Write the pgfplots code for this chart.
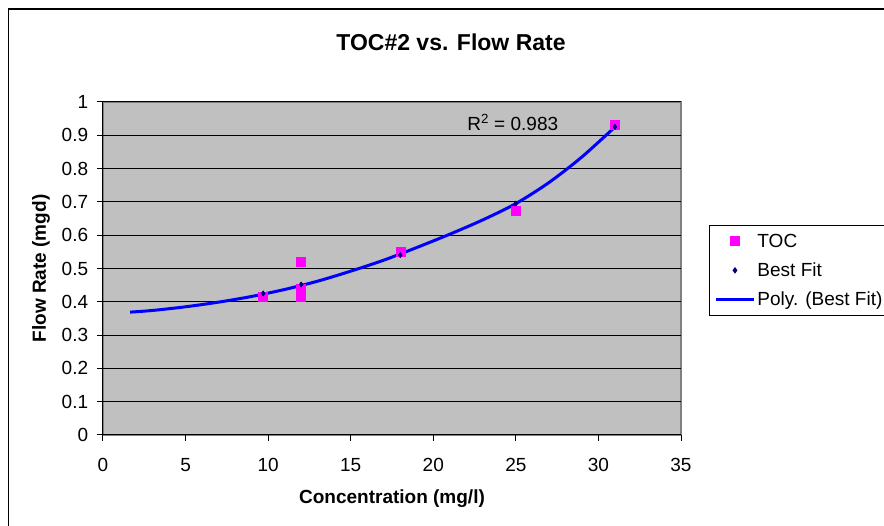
\documentclass[border=0pt]{standalone}
\usepackage{fontspec}
\setmainfont{Liberation Sans}
\usepackage{pgfplots}
\pgfplotsset{compat=1.18}
\definecolor{plotgray}{RGB}{192,192,192}
\definecolor{framegray}{RGB}{128,128,128}
\definecolor{tocmag}{RGB}{255,0,255}
\definecolor{fitnavy}{RGB}{0,0,128}
\definecolor{polyblue}{RGB}{0,0,255}
\begin{document}
\begin{tikzpicture}
\path[use as bounding box, fill=white] (0,0) rectangle (884bp,526bp);
\draw[line width=1.5bp] (8.5bp,0) -- (8.5bp,517bp) -- (884bp,517bp);
\begin{axis}[
  at={(103bp,91bp)}, anchor=south west,
  scale only axis, width=578bp, height=333bp,
  xmin=0, xmax=35, ymin=0, ymax=1,
  xtick={0,5,10,15,20,25,30,35},
  ytick={0,0.1,0.2,0.3,0.4,0.5,0.6,0.7,0.8,0.9,1},
  axis x line*=bottom, axis y line*=left,
  axis line style={black, line width=1bp},
  axis background/.style={fill=plotgray, draw=framegray, line width=1.5bp},
  ymajorgrids, grid style={black, line width=1bp},
  tick align=outside, major tick length=6bp, tick style={black, line width=1bp},
  /pgf/number format/assume math mode=true,
  ticklabel style={font=\fontsize{19bp}{22bp}\selectfont, inner sep=0pt},
  yticklabel style={/pgf/number format/fixed, /pgf/number format/precision=1, xshift=-8.7bp},
  xticklabel style={yshift=-17bp},
  legend style={at={(1.0484,0.6306)}, anchor=north west, draw=black, line width=1bp,
    fill=white, font=\fontsize{19bp}{22bp}\selectfont, inner xsep=5bp, inner ysep=6.5bp,
    row sep=10bp, cells={anchor=west}},
  legend image code/.code={\draw[mark repeat=2,mark phase=2,#1] plot coordinates {(0bp,0bp) (19bp,0bp) (38bp,0bp)};},
  clip=false,
]
\addplot[only marks, mark=square*, mark size=4.5bp, color=tocmag] coordinates {
  (9.7,0.415) (12,0.52) (12,0.44) (12,0.415) (18,0.55) (25,0.673) (31,0.933)
};
\addlegendentry{TOC}
\addplot[only marks, mark=diamond*, mark size=2.5bp, color=fitnavy] coordinates {
  (9.7,0.425) (12,0.452) (18,0.54) (25,0.695) (31,0.925)
};
\addlegendentry{Best Fit}
\addplot[polyblue, line width=3bp, smooth, mark=none] coordinates {
  (1.64,0.369) (3,0.374) (5,0.385) (7,0.399) (9,0.416) (11,0.437) (13,0.462)
  (15,0.492) (17,0.525) (19,0.563) (21,0.603) (23,0.646) (25,0.695) (27,0.758)
  (29,0.835) (31,0.925)
};
\addlegendentry{Poly. (Best Fit)}
\addplot[only marks, mark=diamond*, mark size=2.5bp, color=fitnavy, forget plot] coordinates {
  (9.7,0.425) (12,0.452) (18,0.54) (25,0.695) (31,0.925)
};
\node[anchor=west, font=\fontsize{19bp}{22bp}\selectfont, inner sep=0pt] at (axis cs:22.05,0.938) {R\textsuperscript{2} = 0.983};
\end{axis}
\node[font=\fontsize{23bp}{27bp}\selectfont\bfseries, inner sep=0pt] at (451bp,484bp) {TOC\#2 vs. Flow Rate};
\node[font=\fontsize{19bp}{22bp}\selectfont\bfseries, inner sep=0pt] at (392bp,27bp) {Concentration (mg/l)};
\node[font=\fontsize{19bp}{22bp}\selectfont\bfseries, inner sep=0pt, rotate=90] at (41bp,257.5bp) {Flow Rate (mgd)};
\end{tikzpicture}
\end{document}
